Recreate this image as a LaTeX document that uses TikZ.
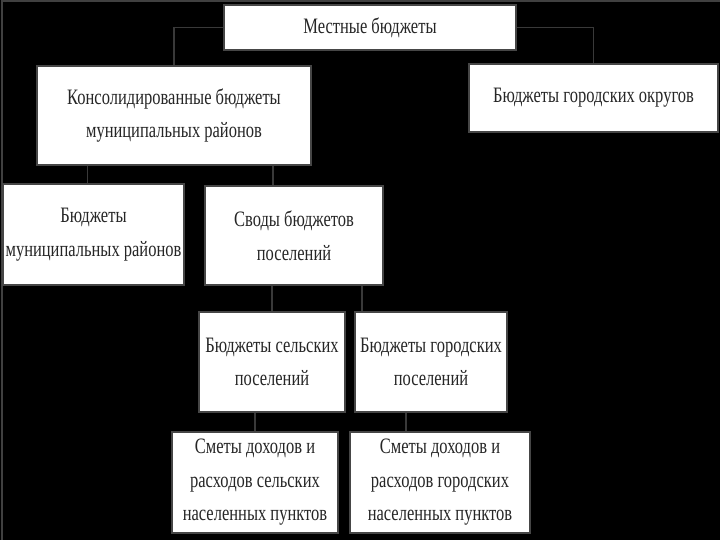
\documentclass[tikz,border=0pt]{standalone}
\usepackage{fontspec}
\setmainfont[FakeStretch=0.75]{Liberation Serif}
\usepackage{tikz}

\begin{document}
\begin{tikzpicture}[x=1pt,y=-1pt,
  blok/.style={draw=gray!55!black,line width=1.2pt,fill=white,align=center,inner sep=1pt,
    text=black!85,font=\fontsize{22}{33.5}\selectfont},
  svyaz/.style={draw=gray!45!black,line width=1.4pt}]
\fill[black] (0,0) rectangle (720,540);
\useasboundingbox (0,0) rectangle (720,540);
\draw[gray!50!black,line width=1.5pt] (2,540) -- (2,1) -- (720,1);
% levels
\node[blok,minimum width=292pt,minimum height=45pt] (mestn) at (370,27.5) {Местные бюджеты};
\node[blok,minimum width=274pt,minimum height=99pt] (kons) at (174,115.5) {Консолидированные бюджеты\\муниципальных районов};
\node[blok,minimum width=249pt,minimum height=68pt] (okrug) at (593.5,98) {Бюджеты городских округов};
\node[blok,minimum width=181pt,minimum height=101pt] (munr) at (93.5,234.5) {Бюджеты\\муниципальных районов};
\node[blok,minimum width=178pt,minimum height=99pt] (svody) at (294,235.5) {Своды бюджетов\\поселений};
\node[blok,minimum width=146pt,minimum height=100pt] (selp) at (272,362) {Бюджеты сельских\\поселений};
\node[blok,minimum width=152pt,minimum height=100pt] (gorp) at (431,362) {Бюджеты городских\\поселений};
\node[blok,minimum width=166pt,minimum height=101pt] (smsel) at (255,482.5) {Сметы доходов и\\расходов сельских\\населенных пунктов};
\node[blok,minimum width=180pt,minimum height=101pt] (smgor) at (440,482.5) {Сметы доходов и\\расходов городских\\населенных пунктов};
% links
\draw[svyaz] (mestn.west) -| (kons.north);
\draw[svyaz] (mestn.east) -| (okrug.north);
\draw[svyaz] ([xshift=-6pt]munr.north) -- ([xshift=-6pt]munr.north |- kons.south);
\draw[svyaz] ([xshift=-21pt]svody.north) -- ([xshift=-21pt]svody.north |- kons.south);
\draw[svyaz] (selp.north) -- (selp.north |- svody.south);
\draw[svyaz] ([xshift=-69pt]gorp.north) -- ([xshift=-69pt]gorp.north |- svody.south);
\draw[svyaz] (smsel.north) -- (smsel.north |- selp.south);
\draw[svyaz] ([xshift=-34pt]smgor.north) -- ([xshift=-34pt]smgor.north |- gorp.south);
\end{tikzpicture}
\end{document}
